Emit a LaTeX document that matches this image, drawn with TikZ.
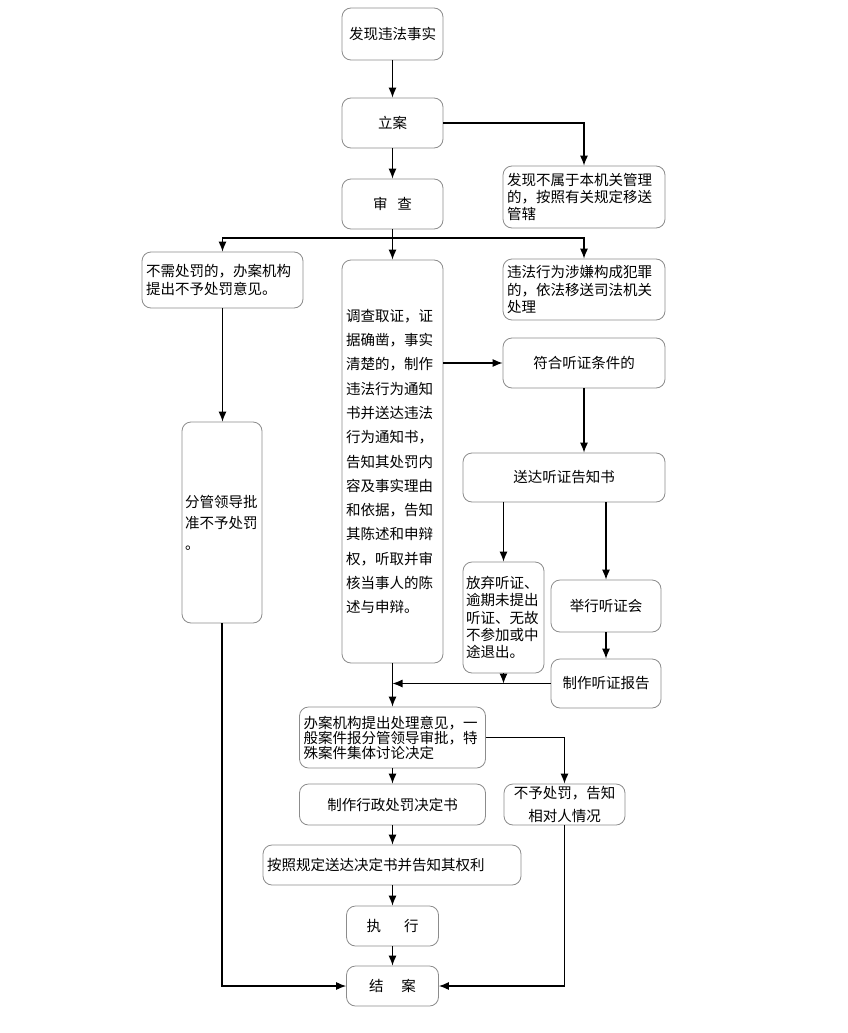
\documentclass[tikz,border=0pt]{standalone}
\usepackage{fontspec}
\newfontfamily\cjk{Noto Sans CJK SC}
\usetikzlibrary{arrows.meta}
\begin{document}
\begin{tikzpicture}[x=1pt,y=-1pt,
  box/.style={draw=black!45, line width=0.8pt, rounded corners=9pt, fill=white,
    font=\cjk\fontsize{14.5}{17}\selectfont, inner xsep=4pt, inner ysep=0pt, text=black},
  lbox/.style={box, align=left},
  cbox/.style={box, align=center},
  arr/.style={line width=1.1pt, -{Latex[length=10pt,width=8pt]}},
  ln/.style={line width=1.1pt}]
\useasboundingbox (0,0) rectangle (848,1033);
\fill[white] (0,0) rectangle (848,1033);

\node[box, minimum width=101pt, minimum height=52pt] (A) at (392.5,34) {发现违法事实};
\node[box, minimum width=101pt, minimum height=50pt] (B) at (392.5,123) {立案};
\node[box, minimum width=101pt, minimum height=50pt] (C) at (392.5,204) {审\hspace{10pt}查};
\node[lbox, text width=154pt, minimum height=62pt] (D) at (584,197) {发现不属于本机关管理\\的，按照有关规定移送\\管辖};
\node[lbox, text width=153pt, minimum height=56pt, font=\cjk\fontsize{14.5}{18.5}\selectfont] (E) at (222.5,280) {不需处罚的，办案机构\\提出不予处罚意见。};
\node[lbox, text width=93pt, minimum height=403pt, font=\cjk\fontsize{14.5}{24.3}\selectfont] (F) at (392.5,461.5) {调查取证，证\\据确凿，事实\\清楚的，制作\\违法行为通知\\书并送达违法\\行为通知书，\\告知其处罚内\\容及事实理由\\和依据，告知\\其陈述和申辩\\权，听取并审\\核当事人的陈\\述与申辩。};
\node[lbox, text width=154pt, minimum height=61pt, font=\cjk\fontsize{14.5}{17.5}\selectfont] (G) at (584,289.5) {违法行为涉嫌构成犯罪\\的，依法移送司法机关\\处理};
\node[box, minimum width=162pt, minimum height=50pt] (H) at (584,363) {符合听证条件的};
\node[box, minimum width=202pt, minimum height=49pt] (I) at (564,477.5) {送达听证告知书};
\node[lbox, text width=75pt, inner xsep=3pt, minimum height=111pt, font=\cjk\fontsize{14.5}{17.3}\selectfont] (J) at (503.5,617.5) {放弃听证、\\逾期未提出\\听证、无故\\不参加或中\\途退出。};
\node[box, minimum width=110pt, minimum height=52pt] (K) at (606,606) {举行听证会};
\node[box, minimum width=110pt, minimum height=49pt] (L) at (606,683.5) {制作听证报告};
\node[lbox, text width=74pt, inner xsep=3pt, minimum height=201pt, font=\cjk\fontsize{14.5}{21}\selectfont] (M) at (222,522.5) {分管领导批\\准不予处罚\\。};
\node[lbox, text width=178pt, minimum height=61pt, font=\cjk\fontsize{14.5}{15}\selectfont] (N) at (392.5,737.5) {办案机构提出处理意见，一\\般案件报分管领导审批，特\\殊案件集体讨论决定};
\node[cbox, text width=113pt, minimum height=41pt, font=\cjk\fontsize{14.5}{23}\selectfont] (O) at (564.5,804.5) {不予处罚，告知\\相对人情况};
\node[box, minimum width=186pt, minimum height=41pt] (P) at (392.5,804.5) {制作行政处罚决定书};
\node[lbox, text width=250pt, minimum height=40pt] (Q) at (392,865) {按照规定送达决定书并告知其权利};
\node[box, minimum width=92pt, minimum height=40pt] (R) at (392.5,926) {执\hspace{23pt}行};
\node[box, minimum width=92pt, minimum height=40pt] (S) at (392.5,986) {结\hspace{18pt}案};

\coordinate (j) at (392.5,238);

\draw[arr] (A.south) -- (B.north);
\draw[arr] (B.south) -- (C.north);
\draw[arr] (B.east) -| (D.north);
\draw[ln] (C.south) -- (j);
\draw[arr] (j) -| (E.north);
\draw[arr] (j) -| (G.north);
\draw[arr] (j) -- (F.north);
\draw[arr] (F.east |- H.west) -- (H.west);
\draw[arr] (H.south) -- (H.south |- I.north);
\draw[arr] (J.north |- I.south) -- (J.north);
\draw[arr] (K.north |- I.south) -- (K.north);
\draw[arr] (K.south) -- (L.north);
\draw[arr] (L.west) -- (F.south |- L.west);
\draw[arr] (J.south) -- (J.south |- L.west);
\draw[arr] (F.south) -- (N.north);
\draw[arr] (E.south) -- (E.south |- M.north);
\draw[arr] (M.south) |- (S.west);
\draw[arr] (N.east) -| (O.north);
\draw[arr] (O.south) |- (S.east);
\draw[arr] (N.south) -- (P.north);
\draw[arr] (P.south) -- (P.south |- Q.north);
\draw[arr] (Q.south -| R.north) -- (R.north);
\draw[arr] (R.south) -- (S.north);
\end{tikzpicture}
\end{document}
